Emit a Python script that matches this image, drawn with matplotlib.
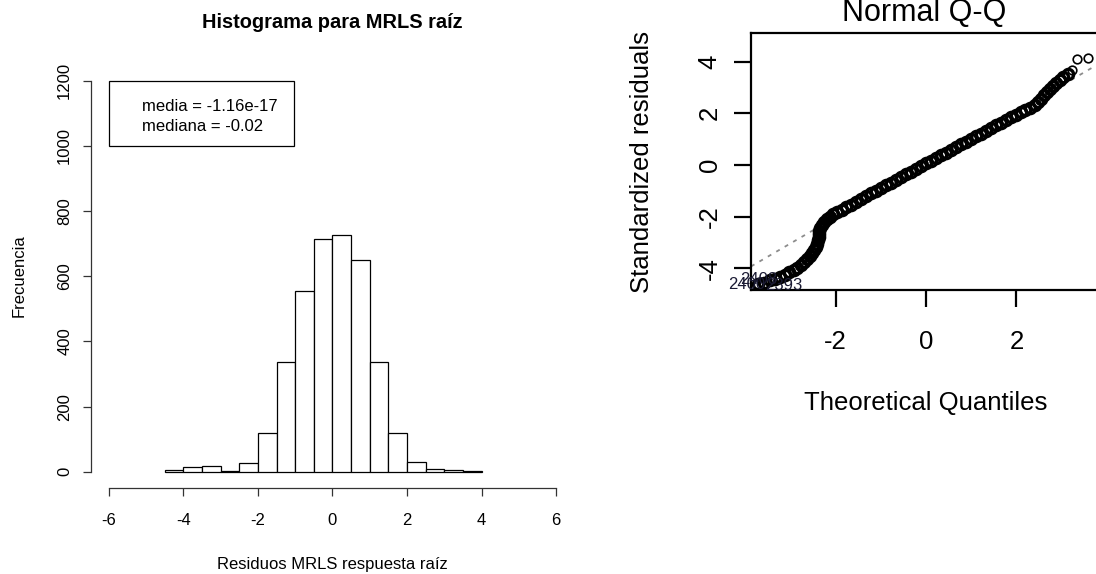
import matplotlib
matplotlib.use("Agg")
import matplotlib.pyplot as plt
from matplotlib.patches import Rectangle

plt.rcParams['font.family'] = ['Liberation Sans', 'DejaVu Sans']

# ---------------- data ----------------
hist_edges = [-4.5, -4.0, -3.5, -3.0, -2.5, -2.0, -1.5, -1.0, -0.5, 0.0,
              0.5, 1.0, 1.5, 2.0, 2.5, 3.0, 3.5, 4.0]
hist_counts = [6, 14, 17, 2, 27, 119, 337, 554, 714, 728, 650, 337, 119, 29, 9, 6, 2]
x_ticks_hist = [-6, -4, -2, 0, 2, 4, 6]
y_ticks_hist = [0, 200, 400, 600, 800, 1000, 1200]
media = -1.16e-17
mediana = -0.02

qq_x = [-3.72, -3.58, -3.45, -3.33, -3.22, -3.12, -3.02, -2.93, -2.85, -2.77,
        -2.70, -2.63, -2.57, -2.52, -2.47, -2.43, -2.40, -2.38, -2.37, -2.37,
        -2.36, -2.34, -2.31, -2.26, -2.20, -2.13, -2.05, -1.96, -1.86, -1.76,
        -1.65, -1.54, -1.43, -1.32, -1.21, -1.10, -0.99, -0.88, -0.77, -0.66,
        -0.55, -0.44, -0.33, -0.22, -0.11, 0.00, 0.11, 0.22, 0.33, 0.44,
        0.55, 0.66, 0.77, 0.88, 0.99, 1.10, 1.21, 1.32, 1.43, 1.54,
        1.65, 1.76, 1.87, 1.98, 2.09, 2.20, 2.31, 2.40, 2.48, 2.55,
        2.61, 2.67, 2.74, 2.81, 2.88, 2.96, 3.04, 3.13, 3.22, 3.33, 3.58]
qq_y = [-4.62, -4.56, -4.47, -4.40, -4.33, -4.25, -4.16, -4.07, -3.97, -3.87,
        -3.76, -3.64, -3.52, -3.40, -3.28, -3.16, -3.04, -2.92, -2.80, -2.68,
        -2.56, -2.44, -2.32, -2.20, -2.10, -2.00, -1.91, -1.82, -1.73, -1.63,
        -1.53, -1.42, -1.31, -1.21, -1.10, -1.00, -0.89, -0.79, -0.68, -0.57,
        -0.47, -0.36, -0.26, -0.15, -0.04, 0.06, 0.17, 0.27, 0.38, 0.48,
        0.59, 0.69, 0.80, 0.90, 1.01, 1.11, 1.21, 1.32, 1.42, 1.53,
        1.63, 1.74, 1.84, 1.94, 2.04, 2.13, 2.22, 2.32, 2.44, 2.57,
        2.70, 2.82, 2.94, 3.05, 3.16, 3.28, 3.40, 3.52, 3.66, 4.12, 4.13]
qq_line_intercept = 0.02
qq_line_slope = 1.02
qq_x_ticks = [-2, 0, 2]
qq_y_ticks = [-4, -2, 0, 2, 4]
qq_labels = ["2400", "2408", "2393"]

# ---------------- figure ----------------
W, H = 1096, 574
fig = plt.figure(figsize=(W / 100, H / 100), dpi=100)


def rect(l, t, r, b):
    return [l / W, 1 - b / H, (r - l) / W, (b - t) / H]


# ---------- left: histogram ----------
ax1 = fig.add_axes(rect(91, 65, 574, 487.5))
widths = [hist_edges[i + 1] - hist_edges[i] for i in range(len(hist_counts))]
ax1.bar(hist_edges[:-1], hist_counts, width=widths, align='edge',
        facecolor='white', edgecolor='black', linewidth=0.9)
ax1.set_xlim(-6.48, 6.48)
ax1.set_ylim(-48, 1248)
for s in ['top', 'right']:
    ax1.spines[s].set_visible(False)
ax1.spines['left'].set_bounds(0, 1200)
ax1.spines['bottom'].set_bounds(-6, 6)
for s in ['left', 'bottom']:
    ax1.spines[s].set_linewidth(0.9)
    ax1.spines[s].set_color('#333333')
ax1.set_xticks(x_ticks_hist)
ax1.set_xticklabels([str(v) for v in x_ticks_hist])
ax1.set_yticks(y_ticks_hist)
ax1.set_yticklabels([str(v) for v in y_ticks_hist], rotation=90, va='center')
ax1.tick_params(axis='both', length=5.5, width=0.9, color='#333333',
                labelsize=12)
ax1.tick_params(axis='x', pad=13)
ax1.tick_params(axis='y', pad=8)

# legend-like box
box_x0, box_x1, box_y0, box_y1 = -6.0, -1.03, 1000, 1200
ax1.add_patch(Rectangle((box_x0, box_y0), box_x1 - box_x0, box_y1 - box_y0,
                        facecolor='white', edgecolor='black', linewidth=0.9,
                        zorder=3))
ax1.text(-5.12, 1122, f"media = {media:.2e}", ha='left', va='center',
         fontsize=12, zorder=4)
ax1.text(-5.12, 1058, f"mediana = {mediana:.2f}", ha='left', va='center',
         fontsize=12, zorder=4)

fig.text(332.5 / W, 1 - 22 / H, "Histograma para MRLS raíz", ha='center',
         va='center', fontsize=14.4, fontweight='bold')
fig.text(19 / W, 1 - 276 / H, "Frecuencia", ha='center', va='center',
         rotation=90, fontsize=12)
fig.text(332.5 / W, 1 - 565 / H, "Residuos MRLS respuesta raíz", ha='center',
         va='center', fontsize=12)

# ---------- right: Normal Q-Q ----------
ax2 = fig.add_axes(rect(751, 33.3, 1101, 290))
ax2.set_xlim(-3.87, 3.87)
ax2.set_ylim(-4.84, 5.10)
xl = [-3.87, 3.87]
ax2.plot(xl, [qq_line_intercept + qq_line_slope * v for v in xl],
         color='#8c8c8c', linestyle=(0, (2.2, 3.2)), linewidth=1.3, zorder=1)
n_dense = len(qq_x) - 3
ax2.plot(qq_x[:n_dense], qq_y[:n_dense], linestyle='none', marker='o',
         markersize=7.4, markerfacecolor='none', markeredgecolor='black',
         markeredgewidth=2.4, zorder=2)
ax2.plot(qq_x[n_dense:], qq_y[n_dense:], linestyle='none', marker='o',
         markersize=6.2, markerfacecolor='none', markeredgecolor='black',
         markeredgewidth=1.2, zorder=2)
for s in ax2.spines.values():
    s.set_linewidth(1.6)
ax2.set_xticks(qq_x_ticks)
ax2.set_xticklabels([str(v) for v in qq_x_ticks])
ax2.set_yticks(qq_y_ticks)
ax2.set_yticklabels([str(v) for v in qq_y_ticks], rotation=90, va='center')
ax2.tick_params(axis='both', length=12, width=1.6, labelsize=18.5)
ax2.tick_params(axis='x', pad=17)
ax2.tick_params(axis='y', pad=9)

# point labels (bottom-left)
ax2.text(-4.38, -4.80, qq_labels[0], ha='left', va='baseline', fontsize=12,
         color='#1a1a33', clip_on=False)
ax2.text(-4.12, -4.62, qq_labels[1], ha='left', va='baseline', fontsize=12,
         color='#1a1a33', clip_on=False)
ax2.text(-3.55, -4.83, qq_labels[2], ha='left', va='baseline', fontsize=12,
         color='#1a1a33', clip_on=False)

fig.text(924 / W, 1 - 21 / H, "Normal Q-Q", ha='center', va='baseline',
         fontsize=22)
fig.text(642 / W, 1 - 162 / H, "Standardized residuals", ha='center',
         va='center', rotation=90, fontsize=18.5)
fig.text(926 / W, 1 - 403 / H, "Theoretical Quantiles", ha='center',
         va='center', fontsize=18.5)

fig.savefig("out.png", dpi=100)
